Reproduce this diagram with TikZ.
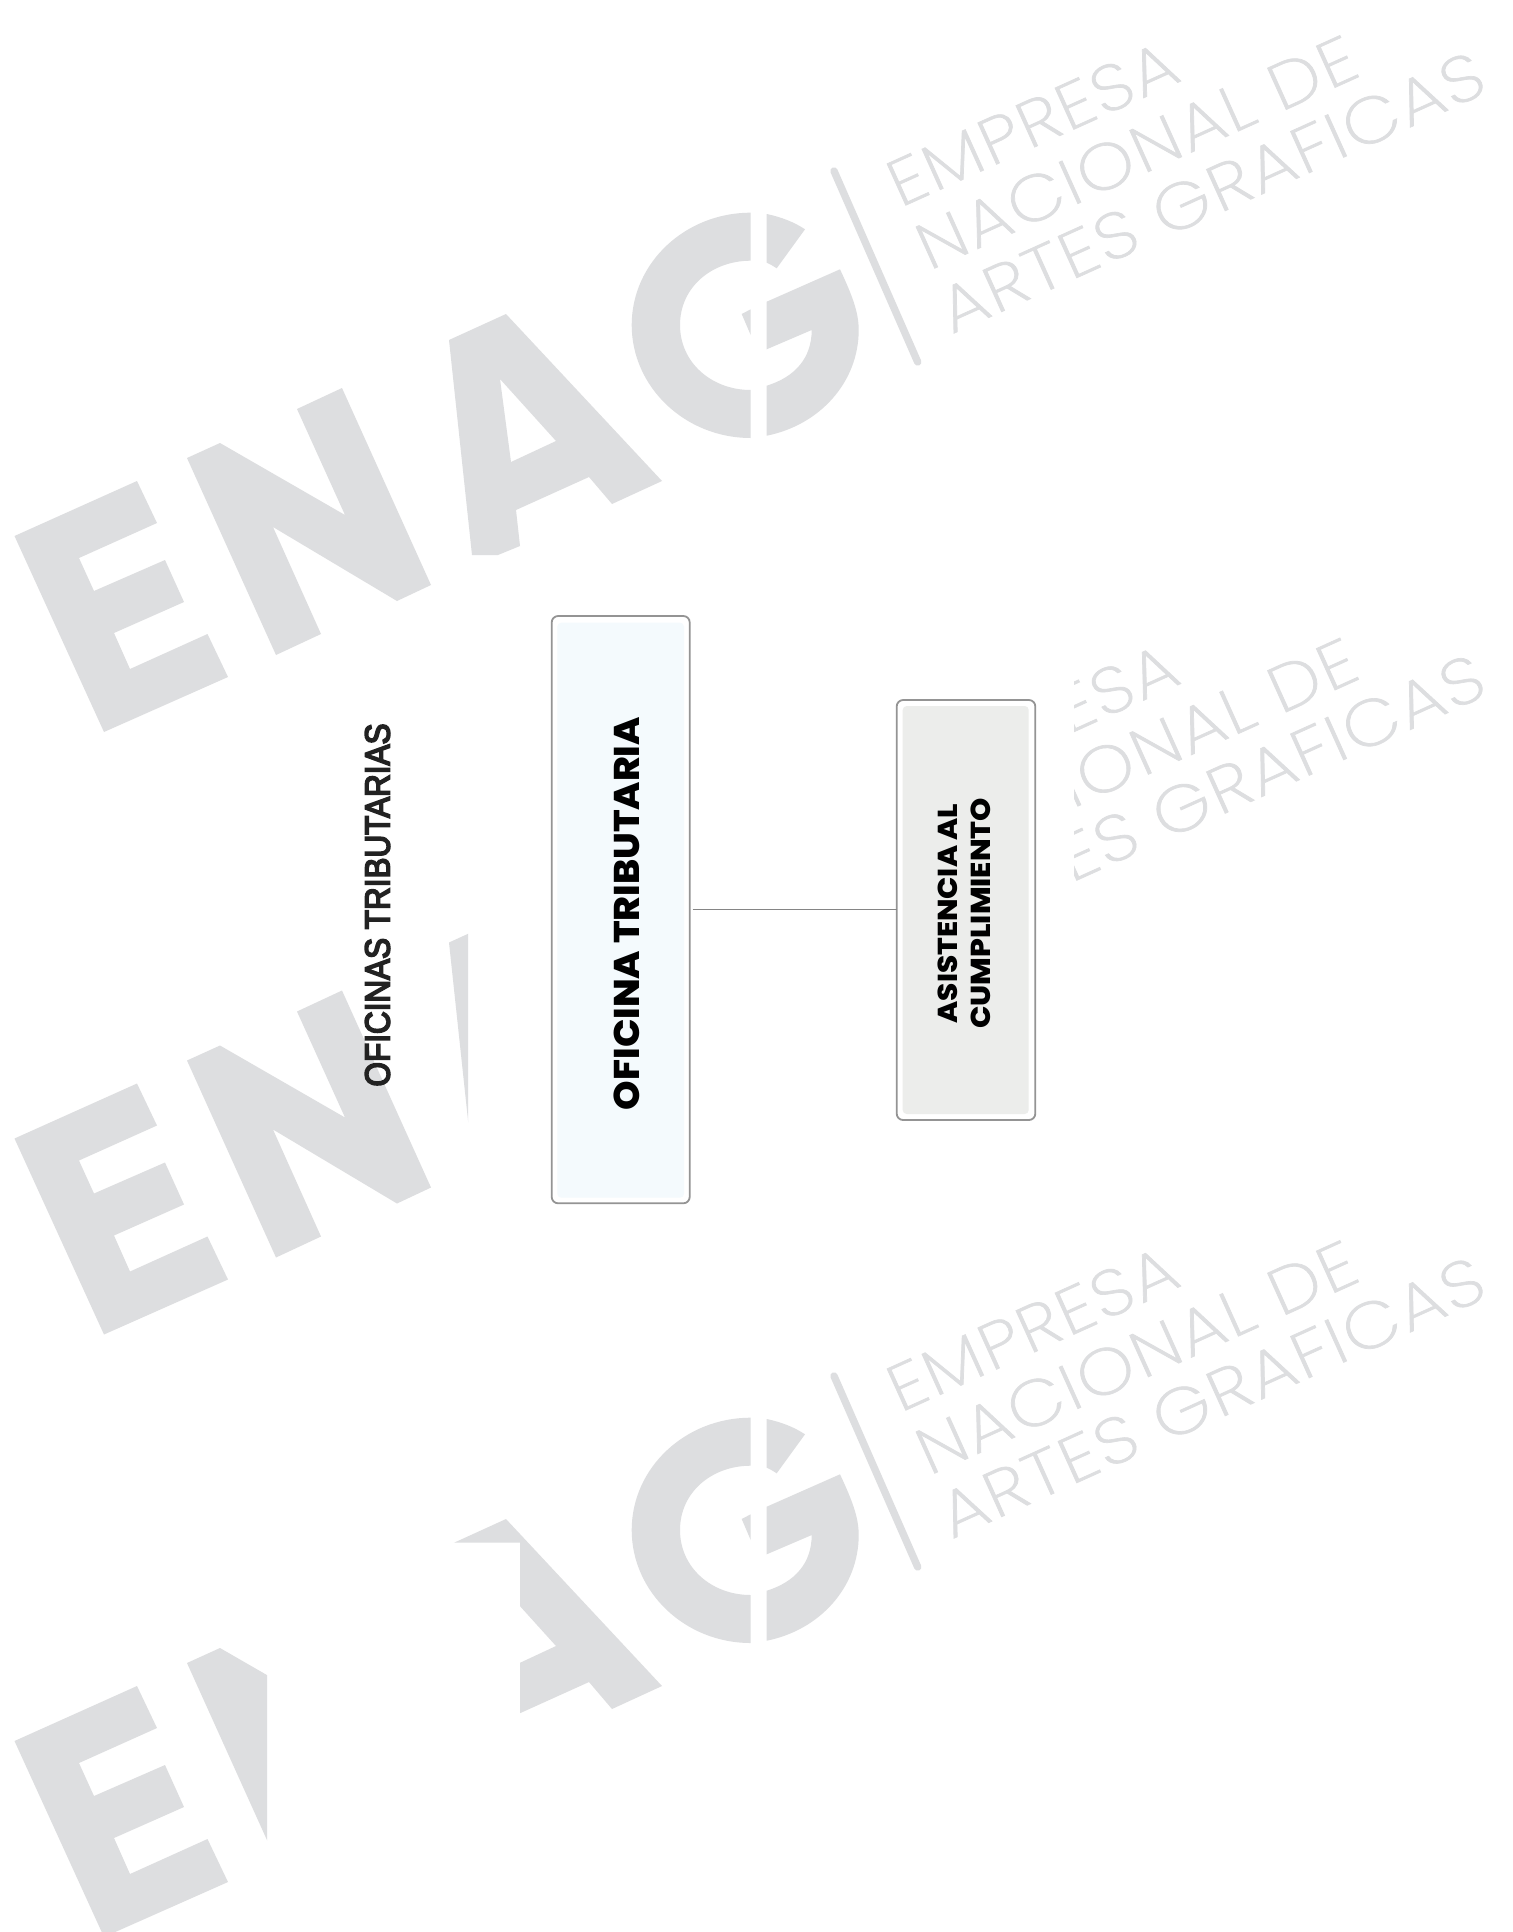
\documentclass[tikz,border=0pt]{standalone}
\usepackage{fontspec}
\usepackage{graphicx}
\setmainfont{Liberation Sans}
\newfontfamily\wmfont{Poppins ExtraLight}[LetterSpace=3,FakeBold=1]
\newfontfamily\popfont{Poppins ExtraBold}
\newfontfamily\titlefont{Liberation Sans}[FakeBold=5]
\definecolor{wmgray}{HTML}{DDDEE0}
\definecolor{wmtextgray}{HTML}{DDDEE0}
\definecolor{edgegray}{HTML}{949494}
\definecolor{paleblue}{HTML}{F4FAFD}
\definecolor{palegray}{HTML}{ECEDEB}
\definecolor{inkdark}{HTML}{222222}
\tikzset{
  wmshape/.style={fill=wmgray,draw=none,even odd rule},
  wmline/.style={anchor=center,inner sep=0pt,outer sep=0pt,rotate=24.3,text=wmtextgray},
  boxframe/.style={draw=edgegray,line width=0.9pt,rounded corners=3.2pt,inner sep=0pt,outer sep=0pt},
  boxlabel/.style={inner sep=0pt,outer sep=0pt,rotate=90,anchor=center,text=black,align=center},
  link/.style={draw=edgegray!90!black,line width=0.7pt}
}
% watermark pieces, in reference pixels
\newcommand{\wmE}{\fill[wmshape] (14.5,536)--(137,481)--(157,523)--(79,558)--(94,591)--(165,560)--(184,602)--(114,633)--(130,669)--(207.5,634)--(228,677)--(104,732)--cycle;}
\newcommand{\wmN}{\fill[wmshape] (187,458)--(220,443)--(345,515)--(297,409)--(342,388)--(431,585)--(397,601)--(273,527)--(321,634)--(276,655)--cycle;}
\newcommand{\wmA}{\fill[wmshape] (449,340)--(506,314)--(662,481)--(612,504)--(589,477)--(516,510)--(520,546)--(498,555)--(472,555)--cycle (500,379)--(556,441)--(511,462)--cycle;}
\newcommand{\wmG}{%
  \fill[wmshape] (750.7,212.7) .. controls (685,212.7) and (631.7,263) .. (631.7,325) .. controls (631.7,387) and (685,438) .. (750.7,438) -- (750.7,390) .. controls (712,390) and (680,363) .. (680,325) .. controls (680,287) and (712,260.7) .. (750.7,260.7) -- cycle;
  \fill[wmshape] (741.7,314)--(750.7,309.3)--(750.7,335)--cycle;
  \fill[wmshape] (766.7,214) .. controls (781,217) and (794,222) .. (805,229.3) -- (776.7,268.3) .. controls (773,266) and (770,264) .. (766.7,262.7) -- cycle;
  \fill[wmshape] (766.7,301.7) -- (840,269.3) .. controls (852,295) and (858.7,312) .. (858.7,330) .. controls (858.7,382) and (820,425) .. (766.7,435.7) -- (766.7,385.7) .. controls (795,377) and (811.7,358) .. (811.7,330) -- (766.7,349.3) -- cycle;
  \draw[wmgray,line width=3.7pt,line cap=round] (834,171)--(917.7,362);
}
\newcommand{\wmText}[1]{%
  \node[wmline] (wma#1) at (1032.3,123.2) {\resizebox{155pt}{23pt}{\wmfont EMPRESA}};
  \node[wmline] (wmb#1) at (1136.4,152.3) {\resizebox{237.5pt}{23pt}{\wmfont NACIONAL DE}};
  \node[wmline] (wmc#1) at (1211.4,192.1) {\resizebox{295pt}{23pt}{\wmfont ARTES GRAFICAS}};
}
\begin{document}
\begin{tikzpicture}[x=0.5pt,y=-0.5pt]
\clip (0,0) rectangle (1513,1932);
\fill[white] (0,0) rectangle (1513,1932);
% top watermark
\wmE \wmN \wmA \wmG \wmText{1}
% middle watermark
\begin{scope}[shift={(0,602.5)}]
  \begin{scope}
    \clip (0,0) rectangle (468,900);
    \wmE \wmN \wmA
  \end{scope}
  \begin{scope}
    \clip (1074,-100) rectangle (1513,500);
    \wmText{2}
  \end{scope}
\end{scope}
% bottom watermark
\begin{scope}[shift={(0,1205)}]
  \wmE
  \begin{scope}
    \clip (0,0) rectangle (267,900);
    \wmN
  \end{scope}
  \begin{scope}
    \clip (440,295)--(1000,295)--(1000,600)--(520,600)--(520,337.5)--(440,337.5)--cycle;
    \wmA
  \end{scope}
  \wmG \wmText{3}
\end{scope}
% diagram
\fill[paleblue,rounded corners=2pt] (557.3,622.7) rectangle (684,1197.7);
\fill[palegray,rounded corners=2pt] (902.7,706) rectangle (1028.7,1114);
\node[boxframe,minimum width=69pt,minimum height=293.65pt] (ofi) at (620.7,909.65) {};
\node[boxframe,minimum width=69.3pt,minimum height=210pt] (asi) at (966,910) {};
\draw[link] ([xshift=1.4pt]ofi.east) -- (ofi.east -| asi.west);
\node[boxlabel] (ofilabel) at (626.7,913.6) {\resizebox{196.5pt}{12.8pt}{\popfont OFICINA TRIBUTARIA}};
\node[boxlabel,font=\fontsize{13.6}{16.35}\selectfont] (asilabel) at (964.2,913.4) {\resizebox{109.8pt}{9.8pt}{\popfont ASISTENCIA AL}\\\resizebox{115.35pt}{9.8pt}{\popfont CUMPLIMIENTO}};
\node[boxlabel,text=inkdark] (title) at (377.5,905) {\resizebox{181.5pt}{12.2pt}{\titlefont OFICINAS TRIBUTARIAS}};
\end{tikzpicture}
\end{document}
